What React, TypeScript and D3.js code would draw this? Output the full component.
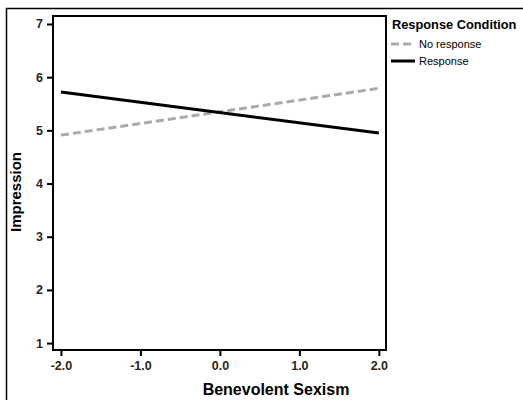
import React, { useEffect, useRef } from "react";
import * as d3 from "d3";

const xValues = [-2, 2];
const noResponse = [4.91, 5.79];
const response = [5.72, 4.95];
const xTicks = [-2, -1, 0, 1, 2];
const yTicks = [1, 2, 3, 4, 5, 6, 7];
const seriesNames = ["No response", "Response"];

export default function App() {
  const ref = useRef<SVGSVGElement>(null);

  useEffect(() => {
    const svg = d3.select(ref.current);
    svg.selectAll("*").remove();

    const font = "'Liberation Sans', Arial, sans-serif";
    const margin = { top: 16, left: 53, right: 137, bottom: 50 };
    const width = 523;
    const height = 400;
    const iwidth = width - margin.left - margin.right;
    const iheight = height - margin.top - margin.bottom;

    // outer frame (left + top only visible)
    svg.append("path")
      .attr("d", `M6.5,400 L6.5,8.5 L523,8.5`)
      .attr("fill", "none")
      .attr("stroke", "#000")
      .attr("stroke-width", 1.5);

    const g = svg.append("g").attr("transform", `translate(${margin.left}, ${margin.top})`);

    const x = d3.scaleLinear().domain([-2.1, 2.09]).range([0, iwidth]);
    const y = d3.scaleLinear().domain([0.87, 7.15]).range([iheight, 0]);

    g.append("rect")
      .attr("width", iwidth)
      .attr("height", iheight)
      .attr("fill", "none")
      .attr("stroke", "#000")
      .attr("stroke-width", 2);

    const xAxis = g.append("g")
      .attr("transform", `translate(0, ${iheight})`)
      .call(d3.axisBottom(x).tickValues(xTicks).tickFormat(d => (d as number).toFixed(1)).tickSize(6).tickPadding(5));
    const yAxis = g.append("g")
      .call(d3.axisLeft(y).tickValues(yTicks).tickFormat(d => String(d)).tickSize(6).tickPadding(4));

    [xAxis, yAxis].forEach(a => {
      a.select(".domain").remove();
      a.selectAll("line").attr("stroke", "#000").attr("stroke-width", 2);
      a.selectAll("text")
        .attr("fill", "#2a2420")
        .style("font-family", font)
        .style("font-size", "12.5px")
        .style("font-weight", "bold");
    });

    const line = d3.line<number>()
      .x((d, i) => x(xValues[i]))
      .y(d => y(d));

    g.append("path")
      .datum(noResponse)
      .attr("d", line)
      .attr("fill", "none")
      .attr("stroke", "#aaaaaa")
      .attr("stroke-width", 3)
      .attr("stroke-dasharray", "8,4");

    g.append("path")
      .datum(response)
      .attr("d", line)
      .attr("fill", "none")
      .attr("stroke", "#000")
      .attr("stroke-width", 3);

    svg.append("text")
      .attr("x", 276)
      .attr("y", 395)
      .attr("text-anchor", "middle")
      .style("font-family", font)
      .style("font-size", "16px")
      .style("font-weight", "bold")
      .text("Benevolent Sexism");

    svg.append("text")
      .attr("transform", `translate(21, 192) rotate(-90)`)
      .attr("text-anchor", "middle")
      .style("font-family", font)
      .style("font-size", "15px")
      .style("font-weight", "bold")
      .text("Impression");

    // legend
    const lg = svg.append("g").attr("transform", "translate(391, 0)");
    lg.append("text")
      .attr("x", 1)
      .attr("y", 29)
      .style("font-family", font)
      .style("font-size", "12.8px")
      .style("font-weight", "bold")
      .text("Response Condition");

    seriesNames.forEach((name, i) => {
      const yy = 44 + i * 17;
      lg.append("line")
        .attr("x1", 0).attr("x2", 24)
        .attr("y1", yy).attr("y2", yy)
        .attr("stroke", i === 0 ? "#aaaaaa" : "#000")
        .attr("stroke-width", 3)
        .attr("stroke-dasharray", i === 0 ? "8,4" : null);
      lg.append("text")
        .attr("x", 28)
        .attr("y", yy + 4)
        .style("font-family", font)
        .style("font-size", "11px")
        .text(name);
    });
  }, []);

  return (
    <svg ref={ref} width={523} height={400} style={{ position: "absolute", left: 0, top: 0, background: "#fff" }} />
  );
}
